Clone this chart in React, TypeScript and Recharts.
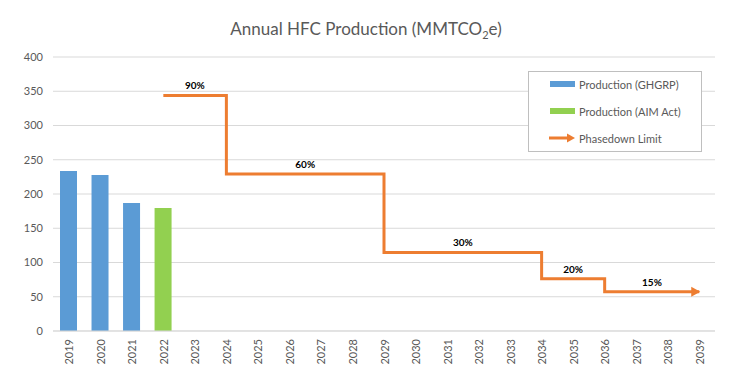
import React from 'react';
import { ComposedChart, Bar, Line, Scatter, XAxis, YAxis, CartesianGrid, Legend } from 'recharts';

const years = ['2019', '2020', '2021', '2022', '2023', '2024', '2025', '2026', '2027', '2028', '2029', '2030', '2031', '2032', '2033', '2034', '2035', '2036', '2037', '2038', '2039'];

const ghgrpYears = ['2019', '2020', '2021'];
const ghgrpValues = [233.6, 227.7, 186.9];

const aimYears = ['2022'];
const aimValues = [179.6];

const limitYears = ['2022', '2024', '2029', '2034', '2036'];
const limitValues = [343.8, 229.2, 114.6, 76.4, 57.3];
const limitLabels = ['90%', '60%', '30%', '20%', '15%'];
const limitEnd = '2039';

const yTicks = [0, 50, 100, 150, 200, 250, 300, 350, 400];

const BLUE = '#5B9BD5';
const GREEN = '#92D050';
const ORANGE = '#ED7D31';
const TEXT = '#595959';
const FONT = 'Lato, "Open Sans", sans-serif';

const rows = years.map((year) => {
  const gi = ghgrpYears.indexOf(year);
  const ai = aimYears.indexOf(year);
  let limit: number | null = null;
  if (year >= limitYears[0] && year <= limitEnd) {
    for (let i = 0; i < limitYears.length; i++) {
      if (limitYears[i] <= year) limit = limitValues[i];
    }
  }
  return {
    year,
    ghgrp: gi >= 0 ? ghgrpValues[gi] : null,
    aim: ai >= 0 ? aimValues[ai] : null,
    limit,
  };
});

const labelPoints = limitYears.map((from, i) => {
  const to = i + 1 < limitYears.length ? limitYears[i + 1] : limitEnd;
  return {
    pos: (years.indexOf(from) + years.indexOf(to)) / 2,
    level: limitValues[i],
    text: limitLabels[i],
  };
});

const XTick = (props: any) => {
  const { x, y, payload } = props;
  return (
    <text
      x={x}
      y={y}
      transform={`rotate(-90 ${x} ${y})`}
      textAnchor="end"
      dominantBaseline="central"
      fill={TEXT}
      fontSize={11}
      fontFamily={FONT}
    >
      {payload.value}
    </text>
  );
};

const lastIndex = years.indexOf(limitEnd);

const ArrowDot = (props: any) => {
  const { cx, cy, index } = props;
  if (index !== lastIndex || cx == null || cy == null) return <g key={`d${index}`} />;
  return (
    <polygon
      key={`d${index}`}
      points={`${cx - 8},${cy - 5} ${cx + 1},${cy} ${cx - 8},${cy + 5}`}
      fill={ORANGE}
    />
  );
};

const LabelShape = (props: any) => {
  const { cx, cy, payload } = props;
  return (
    <text x={cx} y={cy - 6} textAnchor="middle" fontSize={10} fontWeight="bold" fill="#000" fontFamily={FONT}>
      {payload.text}
    </text>
  );
};

const legendItems = [
  { name: 'Production (GHGRP)', color: BLUE, kind: 'bar' },
  { name: 'Production (AIM Act)', color: GREEN, kind: 'bar' },
  { name: 'Phasedown Limit', color: ORANGE, kind: 'arrow' },
];

const LegendBox = () => (
  <svg width={174} height={81} style={{ display: 'block' }}>
    <rect x={0.5} y={0.5} width={173} height={80} fill="#fff" stroke="#BFBFBF" />
    {legendItems.map((it, i) => {
      const cy = 13 + i * 27;
      return (
        <g key={it.name}>
          {it.kind === 'bar' ? (
            <rect x={22} y={cy - 3} width={25} height={6} fill={it.color} />
          ) : (
            <g>
              <line x1={21} y1={cy} x2={40} y2={cy} stroke={it.color} strokeWidth={3} />
              <polygon points={`${39},${cy - 4.5} ${47},${cy} ${39},${cy + 4.5}`} fill={it.color} />
            </g>
          )}
          <text x={51} y={cy} dominantBaseline="central" fontSize={11} fill={TEXT} fontFamily={FONT}>
            {it.name}
          </text>
        </g>
      );
    })}
  </svg>
);

export default function App() {
  return (
    <div style={{ position: 'absolute', left: 0, top: 0, width: 732, height: 379, background: '#fff', fontFamily: FONT }}>
      <div
        style={{
          position: 'absolute',
          left: 0,
          top: 19,
          width: 732,
          textAlign: 'center',
          fontSize: 17,
          lineHeight: '20px',
          color: TEXT,
          zIndex: 2,
          pointerEvents: 'none',
        }}
      >
        Annual HFC Production (MMTCO<span style={{ fontSize: 11, position: 'relative', top: 4 }}>2</span>e)
      </div>
      <ComposedChart
        width={732}
        height={379}
        data={rows}
        margin={{ top: 57, right: 17, bottom: 8, left: 0 }}
      >
        <CartesianGrid vertical={false} stroke="#D9D9D9" xAxisId="cat" />
        <XAxis
          xAxisId="cat"
          dataKey="year"
          type="category"
          height={40}
          interval={0}
          tickLine={false}
          tickSize={0}
          tickMargin={8}
          axisLine={{ stroke: '#D9D9D9' }}
          tick={<XTick />}
        />
        <XAxis xAxisId="num" dataKey="pos" type="number" domain={[-0.5, 20.5]} hide allowDataOverflow />
        <YAxis
          domain={[0, 400]}
          ticks={yTicks}
          width={53}
          axisLine={false}
          tickLine={false}
          tickSize={0}
          tickMargin={10}
          tick={{ fill: TEXT, fontSize: 11, fontFamily: FONT }}
          interval={0}
        />
        <Bar xAxisId="cat" dataKey="ghgrp" stackId="p" fill={BLUE} barSize={17} isAnimationActive={false} />
        <Bar xAxisId="cat" dataKey="aim" stackId="p" fill={GREEN} barSize={17} isAnimationActive={false} />
        <Line
          xAxisId="cat"
          dataKey="limit"
          type="stepAfter"
          stroke={ORANGE}
          strokeWidth={3}
          dot={<ArrowDot />}
          activeDot={false}
          connectNulls={false}
          isAnimationActive={false}
        />
        <Scatter
          xAxisId="num"
          data={labelPoints}
          dataKey="level"
          shape={<LabelShape />}
          isAnimationActive={false}
        />
        <Legend
          layout="vertical"
          align="center"
          verticalAlign="middle"
          wrapperStyle={{ left: 528, top: 71, width: 174, height: 81 }}
          content={() => <LegendBox />}
        />
      </ComposedChart>
    </div>
  );
}
